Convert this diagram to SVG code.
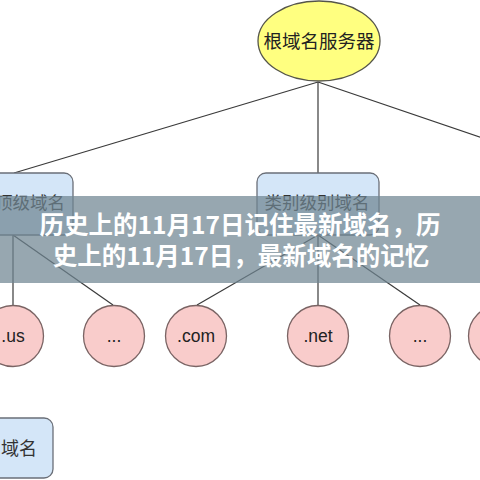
<svg xmlns="http://www.w3.org/2000/svg" width="480" height="480" viewBox="0 0 480 480">
<style>
.edge{stroke:#3a3a3a;stroke-width:1.2;fill:none}
.box{fill:#d4e6f8;stroke:#6a6f78;stroke-width:1.3}
.leaf{fill:#f9cccb;stroke:#7a6464;stroke-width:1.3}
.cj{font-family:"Noto Sans CJK SC","Noto Sans",sans-serif;font-size:17.5px;fill:#333}
.lt{font-family:"Liberation Sans",Arial,sans-serif;font-size:17.5px;fill:#222;text-anchor:middle}
.ban{font-family:"Noto Sans CJK SC","Noto Sans",sans-serif;font-size:24.5px;font-weight:bold;fill:#ffffff;text-anchor:middle}
</style>
<rect width="480" height="480" fill="#ffffff"/>
<g id="connectors">
<line class="edge" x1="318" y1="82" x2="14" y2="173"/>
<line class="edge" x1="318" y1="82" x2="318" y2="173"/>
<line class="edge" x1="318" y1="82" x2="500" y2="144"/>
<line class="edge" x1="13" y1="235" x2="13" y2="305"/>
<line class="edge" x1="13" y1="235" x2="113" y2="305"/>
<line class="edge" x1="318" y1="235" x2="197" y2="305"/>
<line class="edge" x1="318" y1="235" x2="318" y2="305"/>
<line class="edge" x1="318" y1="235" x2="420" y2="305"/>
</g>
<g id="root">
<ellipse cx="319" cy="41" rx="61" ry="40" fill="#ffff80" stroke="#55554a" stroke-width="1.3"/>
<text class="cj" x="319" y="48" text-anchor="middle" style="font-size:18.5px;fill:#222">根域名服务器</text>
</g>
<g id="tld">
<rect class="box" x="-50" y="173" width="123" height="62" rx="9"/>
<text class="cj" x="65" y="209" text-anchor="end">顶级域名</text>
</g>
<g id="category">
<rect class="box" x="257" y="173" width="122" height="62" rx="9"/>
<text class="cj" x="317" y="209" text-anchor="middle">类别级别域名</text>
</g>
<g id="us">
<circle class="leaf" cx="13" cy="336" r="30.5"/>
<text class="lt" x="13" y="342">.us</text>
</g>
<g id="etc1">
<circle class="leaf" cx="114" cy="336" r="30.5"/>
<text class="lt" x="114" y="342">...</text>
</g>
<g id="com">
<circle class="leaf" cx="196" cy="336" r="30.5"/>
<text class="lt" x="196" y="342">.com</text>
</g>
<g id="net">
<circle class="leaf" cx="318" cy="336" r="30.5"/>
<text class="lt" x="318" y="342">.net</text>
</g>
<g id="etc2">
<circle class="leaf" cx="420" cy="336" r="30.5"/>
<text class="lt" x="420" y="342">...</text>
</g>
<g id="etc3">
<circle class="leaf" cx="499" cy="336" r="30.5"/>
</g>
<g id="domain">
<rect class="box" x="-60" y="418" width="113" height="60" rx="9"/>
<text class="cj" x="37" y="455" text-anchor="end" style="font-size:18px">域名</text>
</g>
<g id="banner">
<rect x="0" y="196" width="480" height="87" fill="#6f8591" fill-opacity="0.72"/>
<text class="ban" x="240" y="234">历史上的11月17日记住最新域名，历</text>
<text class="ban" x="241" y="265">史上的11月17日，最新域名的记忆</text>
</g>
</svg>
